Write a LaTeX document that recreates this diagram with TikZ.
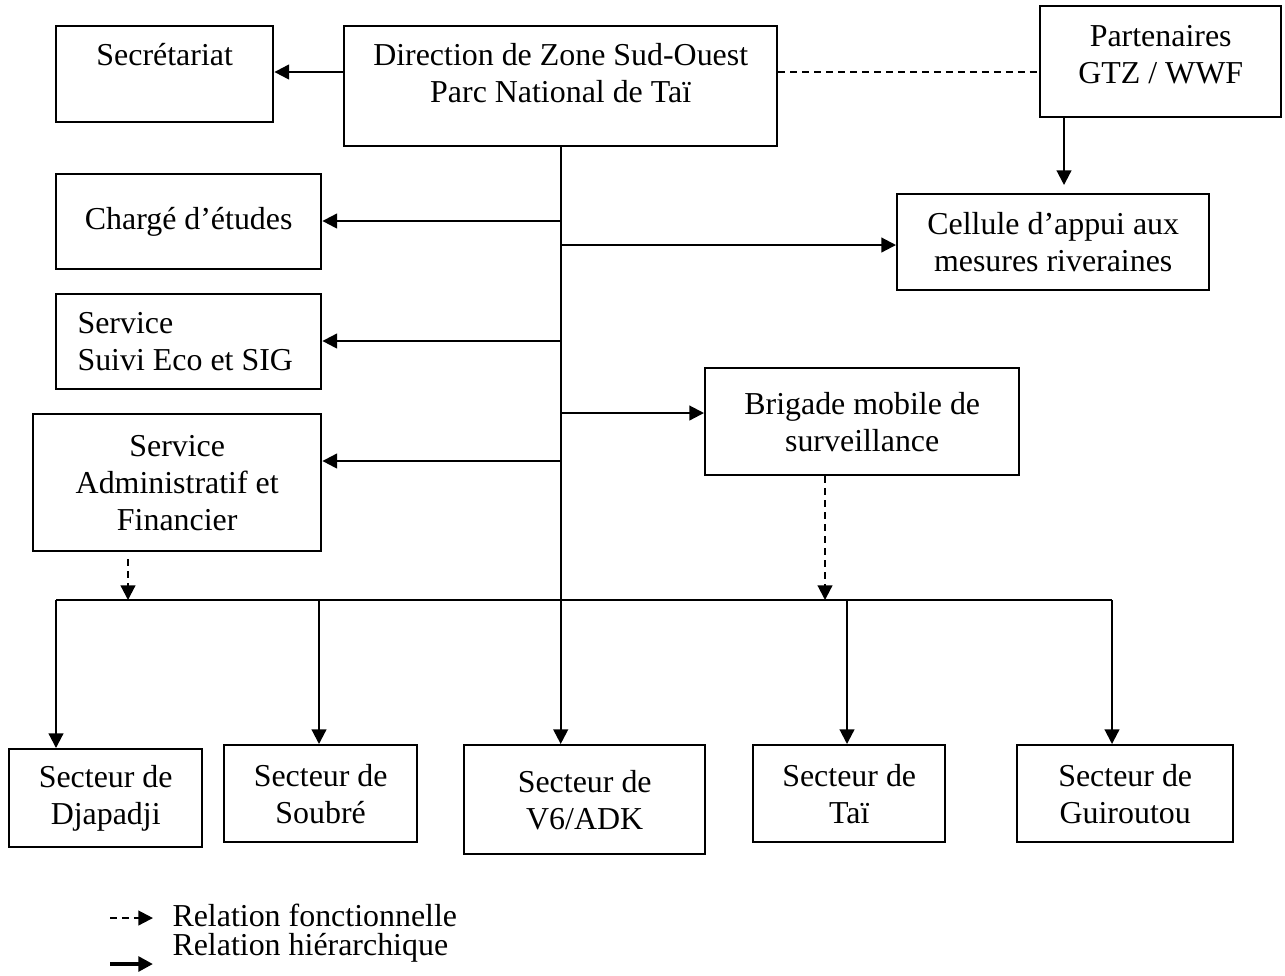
\documentclass[tikz,border=0pt]{standalone}
\usepackage{fontspec}
\setmainfont{Liberation Serif}
\usetikzlibrary{arrows.meta}
\newdimen\px
\px=0.376pt

\begin{document}
\begin{tikzpicture}[
    x=0.376pt, y=-0.376pt,
    font=\fontsize{12}{13.9}\selectfont,
    box/.style 2 args={draw, line width=0.9pt, anchor=north west,
      minimum width=#1\px, minimum height=#2\px, inner sep=0pt, align=center},
    toptext/.style={anchor=north, inner sep=0pt, align=center, yshift=-#1\px},
    lefttext/.style={anchor=west, inner sep=0pt, align=left, xshift=#1\px},
    link/.style={line width=0.8pt},
    hier/.style={link, -{Triangle[length=5.5pt,width=5.5pt]}},
    fonc/.style={hier, dash pattern=on 2.6pt off 1.9pt},
    legtext/.style={anchor=base west, inner sep=0pt}
    ]
    \useasboundingbox (0,0) rectangle (1285,975);

    % boxes
    \node[box={217}{96}, label={[toptext=18]north:Secrétariat}] (sec) at (55,25) {};
    \node[box={433}{120}, label={[toptext=18]north:Direction de Zone Sud-Ouest\\Parc National de Taï}] (dir) at (343,25) {};
    \node[box={241}{111}, label={[toptext=20]north:Partenaires\\GTZ / WWF}] (part) at (1039,5) {};
    \node[box={265}{95}] (charge) at (55,173) {Chargé d’études};
    \node[box={312}{96}] (cell) at (896,193) {Cellule d’appui aux\\mesures riveraines};
    \node[box={265}{95}, label={[lefttext=22]west:Service\\Suivi Eco et SIG}] (suivi) at (55,293) {};
    \node[box={288}{137}] (admin) at (32,413) {Service\\Administratif et\\Financier};
    \node[box={314}{107}] (brig) at (704,367) {Brigade mobile de\\surveillance};

    % secteurs
    \node[box={193}{98}] (djap) at (8,748) {Secteur de\\Djapadji};
    \node[box={193}{97}] (soub) at (223,744) {Secteur de\\Soubré};
    \node[box={241}{109}] (v6) at (463,744) {Secteur de\\V6/ADK};
    \node[box={192}{97}] (tai) at (752,744) {Secteur de\\Taï};
    \node[box={216}{97}] (guir) at (1016,744) {Secteur de\\Guiroutou};

    % top row
    \coordinate (row) at (0,72);
    \draw[hier] (dir.west |- row) -- (sec.east |- row);
    \draw[link, dash pattern=on 2.6pt off 1.9pt] (dir.east |- row) -- (part.west |- row);
    \coordinate (pc) at (1064,0);
    \draw[hier, shorten >=8\px] (part.south -| pc) -- (cell.north -| pc);

    % trunk and branches
    \draw[hier] (dir.south) -- (dir.south |- v6.north);
    \coordinate (bcharge) at (560,221);
    \coordinate (bcell) at (560,245);
    \coordinate (bsuivi) at (560,341);
    \coordinate (bbrig) at (560,413);
    \coordinate (badmin) at (560,461);
    \draw[hier] (bcharge) -- (charge.east |- bcharge);
    \draw[hier] (bcell) -- (cell.west |- bcell);
    \draw[hier] (bsuivi) -- (suivi.east |- bsuivi);
    \draw[hier] (bbrig) -- (brig.west |- bbrig);
    \draw[hier] (badmin) -- (admin.east |- badmin);

    % distribution line
    \coordinate (dl) at (56,600);
    \coordinate (dr) at (1112,600);
    \draw[link] (dl) -- (dr);
    \foreach \n/\x in {djap/56, soub/319, tai/847, guir/1112}
      \draw[hier] (\x,600) -- (\x,600 |- \n.north);

    % functional links
    \coordinate (fadmin) at (128,600);
    \coordinate (fbrig) at (825,600);
    \draw[fonc, shorten <=7\px] (admin.south -| fadmin) -- (fadmin);
    \draw[fonc] (brig.south -| fbrig) -- (fbrig);

    % legend
    \coordinate (lf1) at (110,918);
    \coordinate (lf2) at (153,918);
    \coordinate (lh1) at (110,964);
    \coordinate (lh2) at (153,964);
    \draw[fonc] (lf1) -- (lf2);
    \draw[line width=1.4pt, -{Triangle[length=5.5pt,width=5.5pt]}] (lh1) -- (lh2);
    \node[legtext] (lfonc) at (172,926) {Relation fonctionnelle};
    \node[legtext] (lhier) at (172,955) {Relation hiérarchique};
\end{tikzpicture}
\end{document}
